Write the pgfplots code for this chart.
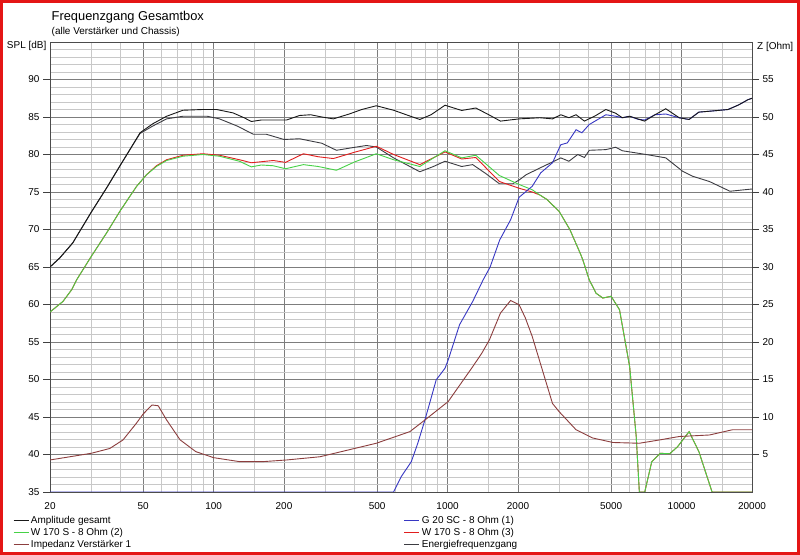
\documentclass[border=0pt]{standalone}
\usepackage{pgfplots}
\usepackage{pgfplotstable}
\pgfplotsset{compat=1.18}
\usepackage{fontspec}
\setmainfont{Liberation Sans}

\definecolor{cAmp}{RGB}{25,25,25}
\definecolor{cEnergy}{RGB}{60,60,66}
\definecolor{cGreen}{RGB}{70,210,70}
\definecolor{cRed}{RGB}{225,30,30}
\definecolor{cBlue}{RGB}{55,55,195}
\definecolor{cBrown}{RGB}{140,62,62}
\definecolor{gridMajor}{RGB}{125,125,125}
\definecolor{gridMinor}{RGB}{200,200,200}
\definecolor{frameRed}{RGB}{228,22,22}

% Amplitude gesamt (dB)
\pgfplotstableread{
f v
20 65.0
22 66.2
25 68.2
30 72.3
35 75.6
40 78.6
45 81.2
48.5 82.9
55 84.1
63 85.1
74 85.9
90 86.0
103 86.0
121 85.55
135 84.9
145 84.4
160 84.6
180 84.6
205 84.6
233 85.2
260 85.3
290 85.0
325 84.75
380 85.4
430 86.0
496 86.5
588 85.9
680 85.2
761 84.67
850 85.3
975 86.57
1149 85.87
1320 86.2
1500 85.3
1683 84.45
2022 84.75
2480 84.9
2808 84.75
3046 85.3
3300 84.9
3540 85.3
3846 84.45
4300 85.2
4746 86.0
5230 85.5
5580 84.9
6000 85.1
6948 84.45
7700 85.3
8560 86.1
9767 84.9
10770 84.67
11850 85.65
13500 85.8
15800 86.0
17500 86.6
19200 87.3
20000 87.5
}\tAmp

% Energiefrequenzgang (dB)
\pgfplotstableread{
f v
20 65.0
22 66.2
25 68.2
30 72.3
35 75.6
40 78.6
45 81.2
48.5 82.8
55 83.8
63 84.75
74 85.1
94 85.1
106 84.75
126 83.8
148 82.7
168 82.7
200 82.0
233 82.1
290 81.5
335 80.56
390 80.9
450 81.2
496 81.0
588 79.55
761 77.7
870 78.4
975 79.1
1149 78.4
1280 78.65
1450 77.5
1665 76.1
1900 76.1
2022 76.6
2166 77.3
2480 78.2
2808 79.0
3046 79.55
3300 79.1
3600 80.0
3846 79.6
4032 80.56
4746 80.65
5230 80.97
5580 80.5
7060 80.0
8560 79.55
10100 77.77
11150 77.1
13150 76.4
16100 75.1
20000 75.4
}\tEnergy

% W 170 S (2) (dB)
\pgfplotstableread{
f v
20 59.0
22.7 60.4
24.8 62.0
26 63.3
30 66.4
35 69.6
40 72.55
46.9 75.76
51.7 77.3
57 78.4
63 79.2
74 79.77
90 80.0
106 79.77
129 79.1
145 78.35
160 78.6
180 78.5
203 78.1
242 78.65
280 78.4
335 77.9
400 79.0
496 80.1
588 79.3
761 78.4
975 80.5
1149 79.55
1320 79.9
1665 77.2
2022 76.0
2300 75.3
2480 74.6
2660 74.0
3000 72.4
3330 70.0
3680 66.9
3780 66.0
4030 63.3
4310 61.5
4610 60.86
5000 61.1
5430 59.3
6000 51.7
6400 42.4
6600 35.0
6960 35.0
7460 39.05
8100 40.16
8900 40.1
9620 41.05
10770 43.05
11850 40.4
13500 35.0
20000 35.0
}\tGreen

% W 170 S (3) (dB)
\pgfplotstableread{
f v
20 59.0
22.7 60.4
24.8 62.0
26 63.3
30 66.4
35 69.6
40 72.55
46.9 75.76
51.7 77.3
57 78.5
63 79.3
74 79.9
90 80.1
106 79.9
129 79.3
145 78.9
180 79.2
203 78.95
242 80.1
280 79.7
325 79.46
400 80.3
496 81.1
588 80.0
761 78.65
975 80.35
1149 79.4
1320 79.6
1665 76.4
2022 75.5
2300 75.0
2480 74.6
2660 74.0
3000 72.4
3330 70.0
3680 66.9
3780 66.0
4030 63.3
4310 61.5
4610 60.86
5000 61.1
5430 59.3
6000 51.7
6400 42.4
6600 35.0
6960 35.0
7460 39.05
8100 40.16
8900 40.1
9620 41.05
10770 43.05
11850 40.4
13500 35.0
20000 35.0
}\tRed

% G 20 SC (dB)
\pgfplotstableread{
f v
20 35.0
588 35.0
634 37.05
700 39.05
746 41.5
800 44.6
850 47.5
894 49.95
975 51.5
1006 52.6
1125 57.3
1280 60.4
1420 63.3
1520 65.0
1670 68.6
1860 71.3
2022 74.3
2300 75.76
2500 77.55
2808 78.9
3046 81.3
3250 81.55
3540 83.3
3750 82.9
4032 84.0
4746 85.3
5230 85.1
5580 84.9
6000 85.1
6500 84.7
6948 84.6
7700 85.3
8560 85.4
9767 84.9
10770 84.67
11850 85.65
13500 85.8
15800 86.0
17500 86.6
19200 87.3
20000 87.5
}\tBlue

% Impedanz Verstaerker 1 (Ohm)
\pgfplotstableread{
f z
20 4.27
30 5.16
36 5.8
41 6.94
46.8 9.17
50 10.4
54.6 11.6
58 11.5
63 9.6
72 6.94
84 5.38
100 4.58
129 4.05
163 4.05
205 4.27
285 4.7
496 6.5
690 8.05
800 9.6
1006 12.06
1280 16.7
1400 18.5
1510 20.3
1683 23.86
1860 25.54
2022 24.97
2150 23.2
2300 20.74
2808 11.8
3000 10.7
3540 8.3
4170 7.2
5090 6.6
6600 6.5
8050 6.94
9770 7.4
13150 7.6
16500 8.3
20000 8.3
}\tImp

\begin{document}
\begin{tikzpicture}
\path[use as bounding box] (0bp,0bp) rectangle (800bp,555bp);
\fill[white] (0bp,0bp) rectangle (800bp,555bp);

\begin{axis}[
  at={(50bp,63bp)}, anchor=south west,
  scale only axis, width=702bp, height=450bp,
  xmode=log, xmin=20, xmax=20000, ymin=35, ymax=95,
  xtick={20,50,100,200,500,1000,2000,5000,10000,20000},
  xticklabels={20,50,100,200,500,1000,2000,5000,10000,20000},
  minor xtick={30,40,60,70,80,90,150,300,400,600,700,800,900,1500,3000,4000,6000,7000,8000,9000,15000},
  ytick={35,40,...,90},
  minor ytick={36,37,38,39,41,42,43,44,46,47,48,49,51,52,53,54,56,57,58,59,61,62,63,64,66,67,68,69,71,72,73,74,76,77,78,79,81,82,83,84,86,87,88,89,91,92,93,94},
  grid=both,
  major grid style={gridMajor, line width=0.6bp},
  minor grid style={gridMinor, line width=0.6bp},
  xtick style={draw=none},
  ytick pos=left,
  tick align=outside,
  major tick length=7bp, minor tick length=0pt,
  ytick style={black!75, line width=0.6bp},
  axis line style={black!70, line width=0.8bp},
  tick label style={font=\fontsize{10}{12}\selectfont},
  xticklabel style={yshift=-0.5bp},
  /pgf/number format/assume math mode=true,
  legend columns=2,
  legend cell align=left,
  legend style={at={(-0.053,-0.049)}, anchor=north west, draw=none, fill=none,
    font=\fontsize{10}{12}\selectfont, inner sep=0pt, row sep=-0.6bp,
    /tikz/every even column/.append style={column sep=0bp}},
  legend image code/.code={\draw[#1, line width=1bp] (0bp,0bp) -- (15bp,0bp);},
]
\addplot[cEnergy, line width=0.9bp, forget plot] table[x=f,y=v] {\tEnergy};
\addplot[cRed, line width=0.9bp, forget plot] table[x=f,y=v] {\tRed};
\addplot[cGreen, line width=0.9bp, forget plot] table[x=f,y=v] {\tGreen};
\addplot[cBlue, line width=0.9bp, forget plot] table[x=f,y=v] {\tBlue};
\addplot[cAmp, line width=0.9bp, forget plot] table[x=f,y=v] {\tAmp};

\addlegendimage{cAmp}
\addlegendentry{\makebox[371bp][l]{Amplitude gesamt}}
\addlegendimage{cBlue}
\addlegendentry{G 20 SC - 8 Ohm (1)}
\addlegendimage{cGreen}
\addlegendentry{\makebox[371bp][l]{W 170 S - 8 Ohm (2)}}
\addlegendimage{cRed}
\addlegendentry{W 170 S - 8 Ohm (3)}
\addlegendimage{cBrown}
\addlegendentry{\makebox[371bp][l]{Impedanz Verstärker 1}}
\addlegendimage{cEnergy}
\addlegendentry{Energiefrequenzgang}
\end{axis}

\begin{axis}[
  at={(50bp,63bp)}, anchor=south west,
  scale only axis, width=702bp, height=450bp,
  xmode=log, xmin=20, xmax=20000, ymin=0, ymax=60,
  hide x axis,
  axis line style={draw=none},
  ytick={5,10,...,55},
  ytick pos=right, yticklabel pos=right,
  tick align=outside,
  major tick length=7bp, minor tick length=0pt,
  ytick style={black!75, line width=0.6bp},
  tick label style={font=\fontsize{10}{12}\selectfont},
  /pgf/number format/assume math mode=true,
]
\addplot[cBrown, line width=0.9bp] table[x=f,y=z] {\tImp};
\end{axis}

\node[anchor=west, font=\fontsize{12.9}{15}\selectfont, inner sep=0pt] at (51.5bp,538bp) {Frequenzgang Gesamtbox};
\node[anchor=west, font=\fontsize{10}{12}\selectfont, inner sep=0pt] at (51.5bp,523.5bp) {(alle Verstärker und Chassis)};
\node[anchor=east, font=\fontsize{10}{12}\selectfont, inner sep=0pt] at (46.5bp,509bp) {SPL [dB]};
\node[anchor=west, font=\fontsize{10}{12}\selectfont, inner sep=0pt] at (757bp,508.5bp) {Z [Ohm]};

\draw[frameRed, line width=3.2bp] (1.6bp,1.6bp) rectangle (798.4bp,553.4bp);
\end{tikzpicture}
\end{document}
